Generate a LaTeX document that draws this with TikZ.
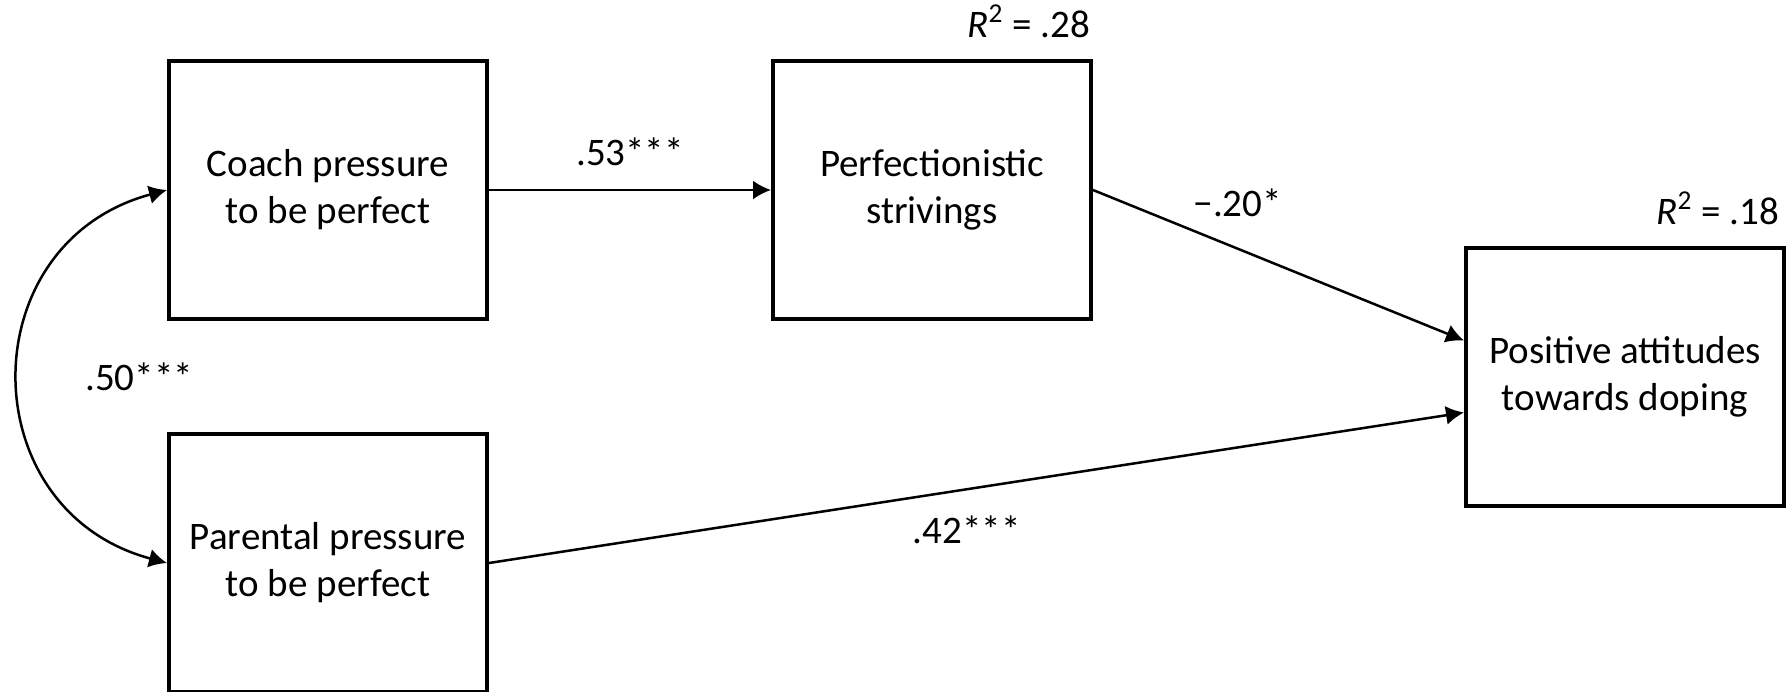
\documentclass[tikz,border=0pt]{standalone}
\usepackage{fontspec}
\setmainfont{Carlito}
\usetikzlibrary{positioning,arrows.meta,calc}
\tikzset{
  node-box/.style={draw=black,line width=2pt,minimum width=159pt,
    minimum height=129pt,align=center,inner sep=0pt,
    font=\fontsize{19.5}{23.5}\selectfont},
  node-label/.style={font=\fontsize{19.5}{23.5}\selectfont},
  node-rsq/.style={font=\fontsize{19.5}{23.5}\selectfont},
  arrow/.style={-{Latex[length=9pt,width=9.5pt]},line width=1.25pt,draw=black},
  arrow-both/.style={{Latex[length=9pt,width=9.5pt]}-{Latex[length=9pt,width=9.5pt]},
    line width=1.25pt,draw=black},
}
\begin{document}
\begin{tikzpicture}[node distance=55.5pt and 141pt]
  \useasboundingbox (0,0) rectangle (896pt,-345.5pt);
  \node[node-box] (coach) at (164pt,-95pt) {Coach pressure\\to be perfect};
  \node[node-box,right=of coach] (perf) {Perfectionistic\\strivings};
  \node[node-box,below=of coach] (parent) {Parental pressure\\to be perfect};
  \coordinate (mid) at ($(perf.east)!0.5!(perf.east |- parent.east)$);
  \node[node-box,right=185.5pt of mid] (attitude) {Positive attitudes\\towards doping};
  \node[node-rsq,above left=7pt and -2pt of perf.north east] (rsq-perf)
    {\textit{R}\textsuperscript{2} = .28};
  \node[node-rsq,above left=7pt and 0pt of attitude.north east] (rsq-att)
    {\textit{R}\textsuperscript{2} = .18};
  \draw[arrow] (coach) -- node[node-label,above=8pt]{.53***} (perf);
  \draw[arrow] (perf.east) -- node[node-label,pos=0.39,above=12pt]{−.20*} ([yshift=18pt]attitude.west);
  \draw[arrow] (parent.east) -- node[node-label,pos=0.49,below=9.5pt]{.42***} ([yshift=-18pt]attitude.west);
  \draw[arrow-both] (coach.west) to[out=195,in=165,looseness=1.4]
    node[node-label,right=29pt]{.50***} (parent.west);
\end{tikzpicture}
\end{document}
